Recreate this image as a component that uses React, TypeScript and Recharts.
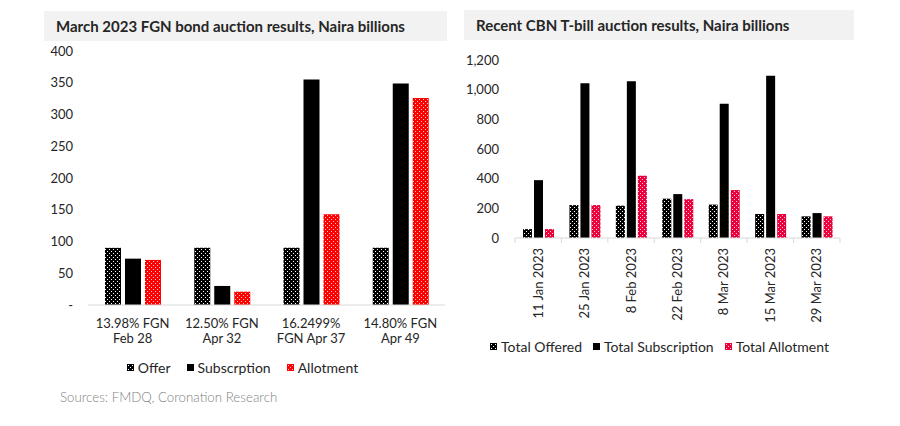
import React from "react";
import { BarChart, Bar, XAxis, YAxis, Legend } from "recharts";

// ---------- Left chart data: March 2023 FGN bond auction ----------
const bondLine1 = ["13.98% FGN", "12.50% FGN", "16.2499%", "14.80% FGN"];
const bondLine2 = ["Feb 28", "Apr 32", "FGN Apr 37", "Apr 49"];
const bondOffer = [90, 90, 90, 90];
const bondSubscription = [73, 30, 355, 349];
const bondAllotment = [71, 21, 143, 326];
const bondTicks = [0, 50, 100, 150, 200, 250, 300, 350, 400];
const bondSeriesNames = ["Offer", "Subscrption", "Allotment"];

// ---------- Right chart data: CBN T-bill auctions ----------
const billDates = [
  "11 Jan 2023",
  "25 Jan 2023",
  "8 Feb 2023",
  "22 Feb 2023",
  "8 Mar 2023",
  "15 Mar 2023",
  "29 Mar 2023",
];
const billOffered = [60, 222, 218, 265, 225, 162, 146];
const billSubscription = [390, 1044, 1057, 296, 905, 1093, 168];
const billAllotment = [60, 222, 420, 262, 323, 162, 146];
const billTicks = [0, 200, 400, 600, 800, 1000, 1200];
const billSeriesNames = ["Total Offered", "Total Subscription", "Total Allotment"];

const bondData = bondLine1.map((l1, i) => ({
  name: `${l1} ${bondLine2[i]}`,
  offer: bondOffer[i],
  subscription: bondSubscription[i],
  allotment: bondAllotment[i],
}));

const billData = billDates.map((d, i) => ({
  name: d,
  offered: billOffered[i],
  subscription: billSubscription[i],
  allotment: billAllotment[i],
}));

const FONT = "Lato, 'Open Sans', sans-serif";
const TEXT = "#262626";
const AXIS = "#d9d9d9";

const BondTick = (props: any) => {
  const { x, y, payload, index } = props;
  const i = typeof index === "number" ? index : bondData.findIndex((d) => d.name === payload.value);
  return (
    <g>
      <text x={x} y={y + 23} textAnchor="middle" fill={TEXT} fontSize={13} fontFamily={FONT}>
        {bondLine1[i]}
      </text>
      <text x={x} y={y + 38} textAnchor="middle" fill={TEXT} fontSize={13} fontFamily={FONT}>
        {bondLine2[i]}
      </text>
    </g>
  );
};

const BillTick = (props: any) => {
  const { x, y, payload, index, visibleTicksCount } = props;
  const off = payload && typeof payload.offset === "number" ? payload.offset : 0;
  const isLast = typeof visibleTicksCount === "number" ? index === visibleTicksCount - 1 : index === billDates.length - 1;
  return (
    <g>
      <line x1={x - off} y1={y} x2={x - off} y2={y + 5} stroke={AXIS} strokeWidth={1} />
      {isLast && <line x1={x + off} y1={y} x2={x + off} y2={y + 5} stroke={AXIS} strokeWidth={1} />}
      <text
        x={x}
        y={y + 10}
        transform={`rotate(-90 ${x} ${y + 10})`}
        textAnchor="end"
        dy="0.35em"
        fill={TEXT}
        fontSize={13}
        fontFamily={FONT}
      >
        {payload.value}
      </text>
    </g>
  );
};

const makeLegend = (order: string[], fontSize: number, gap: number) => (props: any) => {
  const raw = props.payload || [];
  const payload = [...raw].sort((a: any, b: any) => order.indexOf(a.value) - order.indexOf(b.value));
  return (
    <div
      style={{
        display: "flex",
        justifyContent: "center",
        alignItems: "center",
        height: 20,
        fontFamily: FONT,
        fontSize,
        color: TEXT,
        whiteSpace: "nowrap",
      }}
    >
      {payload.map((e: any, i: number) => (
        <span
          key={i}
          style={{ display: "flex", alignItems: "center", marginRight: i < payload.length - 1 ? gap : 0 }}
        >
          <svg width={7} height={7} style={{ marginRight: 4 }}>
            <rect width={7} height={7} fill={e.color} />
          </svg>
          <span>{e.value}</span>
        </span>
      ))}
    </div>
  );
};

const fmtBond = (v: number) => (v === 0 ? "-" : String(v));
const fmtBill = (v: number) => v.toLocaleString("en-US");

const titleStyle: React.CSSProperties = {
  position: "absolute",
  height: 30,
  background: "#f2f2f2",
  color: TEXT,
  fontWeight: 700,
  fontSize: 15,
  lineHeight: "30px",
  paddingLeft: 12,
  boxSizing: "border-box",
  whiteSpace: "nowrap",
};

export default function App() {
  return (
    <div
      style={{
        position: "absolute",
        left: 0,
        top: 0,
        width: 900,
        height: 426,
        background: "#fff",
        fontFamily: FONT,
        overflow: "hidden",
      }}
    >
      <svg width={0} height={0} style={{ position: "absolute" }}>
        <defs>
          <pattern id="dotBlack" width={4} height={4} patternUnits="userSpaceOnUse">
            <rect width={4} height={4} fill="#000" />
            <rect x={1} y={1} width={1} height={1} fill="#fff" />
            <rect x={3} y={3} width={1} height={1} fill="#fff" />
          </pattern>
          <pattern id="dotRed" width={4} height={4} patternUnits="userSpaceOnUse">
            <rect width={4} height={4} fill="#ff0000" />
            <rect x={1} y={1} width={1} height={1} fill="#ffc8c8" />
            <rect x={3} y={3} width={1} height={1} fill="#ffc8c8" />
          </pattern>
          <pattern id="dotCrimson" width={4} height={4} patternUnits="userSpaceOnUse">
            <rect width={4} height={4} fill="#eb003c" />
            <rect x={1} y={1} width={1} height={1} fill="#ffd0dc" />
            <rect x={3} y={3} width={1} height={1} fill="#ffd0dc" />
          </pattern>
        </defs>
      </svg>

      <div style={{ ...titleStyle, left: 44, top: 11, width: 403 }}>
        March 2023 FGN bond auction results, Naira billions
      </div>
      <div style={{ ...titleStyle, left: 464, top: 10, width: 390 }}>
        Recent CBN T-bill auction results, Naira billions
      </div>

      {/* Left chart */}
      <div style={{ position: "absolute", left: 40, top: 40 }}>
        <BarChart
          width={415}
          height={337}
          data={bondData}
          margin={{ top: 11, right: 10, left: 0, bottom: 0 }}
          barSize={16}
          barGap={4}
        >
          <XAxis
            dataKey="name"
            axisLine={{ stroke: AXIS }}
            tickLine={false}
            tickSize={0}
            tickMargin={0}
            height={52}
            interval={0}
            tick={<BondTick />}
          />
          <YAxis
            width={48}
            domain={[0, 400]}
            ticks={bondTicks}
            axisLine={false}
            tickLine={false}
            tickSize={0}
            tickMargin={15}
            tickFormatter={fmtBond}
            tick={{ fill: TEXT, fontSize: 13, fontFamily: FONT }}
          />
          <Legend
            verticalAlign="bottom"
            height={20}
            itemSorter={null as any}
            content={makeLegend(bondSeriesNames, 14, 16)}
          />
          <Bar dataKey="offer" name={bondSeriesNames[0]} fill="url(#dotBlack)" isAnimationActive={false} />
          <Bar dataKey="subscription" name={bondSeriesNames[1]} fill="#000000" isAnimationActive={false} />
          <Bar dataKey="allotment" name={bondSeriesNames[2]} fill="url(#dotRed)" isAnimationActive={false} />
        </BarChart>
      </div>

      {/* Right chart */}
      <div style={{ position: "absolute", left: 455, top: 40 }}>
        <BarChart
          width={405}
          height={316}
          data={billData}
          margin={{ top: 20, right: 20, left: 0, bottom: 0 }}
          barSize={9}
          barGap={2}
        >
          <XAxis
            dataKey="name"
            axisLine={{ stroke: AXIS }}
            tickLine={false}
            tickSize={0}
            tickMargin={0}
            height={98}
            interval={0}
            tick={<BillTick />}
          />
          <YAxis
            width={60}
            domain={[0, 1200]}
            ticks={billTicks}
            axisLine={false}
            tickLine={false}
            tickSize={0}
            tickMargin={16}
            tickFormatter={fmtBill}
            tick={{ fill: TEXT, fontSize: 13, fontFamily: FONT }}
          />
          <Legend
            verticalAlign="bottom"
            height={20}
            itemSorter={null as any}
            wrapperStyle={{ left: 12 }}
            content={makeLegend(billSeriesNames, 14, 11)}
          />
          <Bar dataKey="offered" name={billSeriesNames[0]} fill="url(#dotBlack)" isAnimationActive={false} />
          <Bar dataKey="subscription" name={billSeriesNames[1]} fill="#000000" isAnimationActive={false} />
          <Bar dataKey="allotment" name={billSeriesNames[2]} fill="url(#dotCrimson)" isAnimationActive={false} />
        </BarChart>
      </div>

      {/* Source */}
      <div
        style={{
          position: "absolute",
          left: 60,
          top: 389,
          fontSize: 13.3,
          fontWeight: 300,
          color: "#7f7f7f",
          whiteSpace: "nowrap",
        }}
      >
        Sources: FMDQ, Coronation Research
      </div>
    </div>
  );
}
